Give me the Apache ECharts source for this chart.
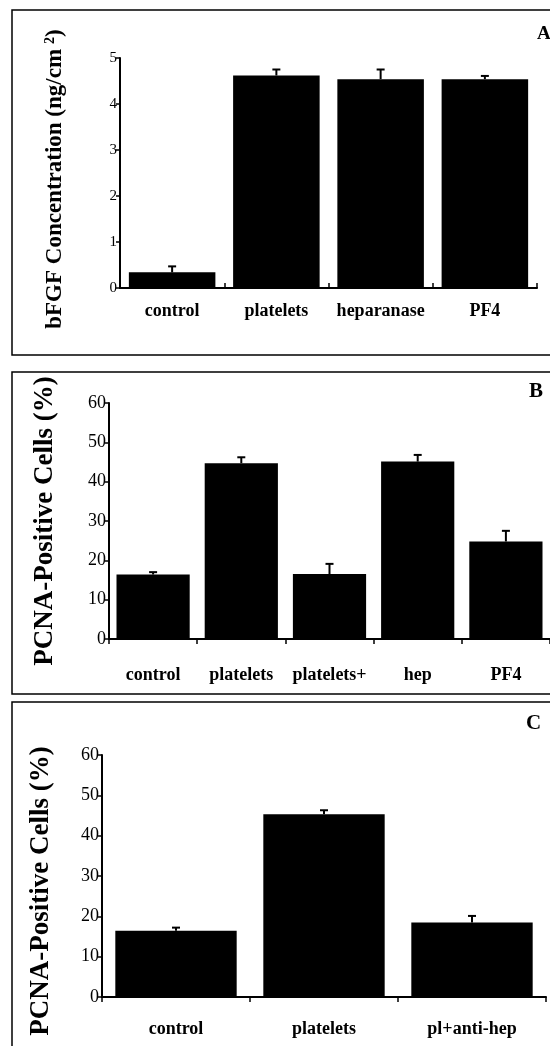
<!DOCTYPE html>
<html>
<head>
<meta charset="utf-8">
<script src="https://cdn.jsdelivr.net/npm/echarts@6/dist/echarts.min.js"></script>
<style>html,body{margin:0;padding:0;background:#fff}#c{width:550px;height:1046px}</style>
</head>
<body>
<div id="c"></div>
<script>
// Panel A
var catsA = ['control', 'platelets', 'heparanase', 'PF4'];
var valsA = [0.34, 4.62, 4.54, 4.54];
var errA = [0.13, 0.13, 0.21, 0.07];
// Panel B
var catsB = ['control', 'platelets', 'platelets+', 'hep', 'PF4'];
var valsB = [16.4, 44.7, 16.5, 45.1, 24.8];
var errB = [0.6, 1.5, 2.6, 1.7, 2.7];
// Panel C
var catsC = ['control', 'platelets', 'pl+anti-hep'];
var valsC = [16.4, 45.3, 18.5];
var errC = [0.8, 1.0, 1.6];
// tick labels
var ticksA = ['0', '1', '2', '3', '4', '5'];
var ticksBC = ['0', '10', '20', '30', '40', '50', '60'];

var SERIF = '"Liberation Serif","Times New Roman",serif';

function errSeries(vals, errs, idx) {
  return {
    type: 'custom', xAxisIndex: idx, yAxisIndex: idx, z: 5,
    data: vals.map(function (v, i) { return [i, v, errs[i]]; }),
    encode: { x: 0, y: 1 },
    renderItem: function (params, api) {
      var i = api.value(0), v = api.value(1), e = api.value(2);
      var p0 = api.coord([i, v]);
      var p1 = api.coord([i, v + e]);
      var hw = 4;
      return {
        type: 'group',
        children: [
          { type: 'line', shape: { x1: p0[0], y1: p0[1], x2: p1[0], y2: p1[1] }, style: { stroke: '#000', lineWidth: 2 } },
          { type: 'line', shape: { x1: p1[0] - hw, y1: p1[1], x2: p1[0] + hw, y2: p1[1] }, style: { stroke: '#000', lineWidth: 2 } }
        ]
      };
    }
  };
}

function xAx(cats, idx, margin, inside) {
  return {
    type: 'category', gridIndex: idx, data: cats,
    axisLine: { lineStyle: { color: '#000', width: 2 } },
    axisTick: { show: true, inside: inside, length: 5, lineStyle: { color: '#000', width: 1.5 } },
    axisLabel: { interval: 0, color: '#000', fontFamily: SERIF, fontWeight: 'bold', fontSize: 18, margin: margin }
  };
}

function yAx(idx, max, interval, ticks, name, nameGap, labelSize, nameSize, shift) {
  return {
    type: 'value', gridIndex: idx, min: 0, max: max, interval: interval,
    splitLine: { show: false },
    axisLine: { show: true, lineStyle: { color: '#000', width: 2 } },
    axisTick: { show: true, length: 4, lineStyle: { color: '#000', width: 1.5 } },
    axisLabel: { color: '#000', fontFamily: SERIF, fontSize: labelSize, margin: 3,
      formatter: function (v) { var k = Math.round(v / interval); return ticks[k]; } },
    name: name, nameLocation: 'middle', nameRotate: 90, nameGap: nameGap,
    nameTextStyle: { color: '#000', fontFamily: SERIF, fontWeight: 'bold', fontSize: nameSize,
      padding: [0, shift, 0, 0],
      rich: {
        a: { fontFamily: SERIF, fontWeight: 'bold', fontSize: nameSize, color: '#000' },
        s: { fontFamily: SERIF, fontWeight: 'bold', fontSize: 14, color: '#000', verticalAlign: 'top', padding: [0, 0, 10, 5] }
      } }
  };
}

function barSeries(vals, idx, gap) {
  return { type: 'bar', xAxisIndex: idx, yAxisIndex: idx, data: vals, barCategoryGap: gap,
    itemStyle: { color: '#000' }, z: 3 };
}

var chart = echarts.init(document.getElementById('c'), null, { renderer: 'canvas' });
chart.setOption({
  backgroundColor: '#fff',
  animation: false,
  grid: [
    { left: 120, top: 58, width: 417, height: 230 },
    { left: 109, top: 403, width: 442, height: 236 },
    { left: 102, top: 755, width: 444, height: 242 }
  ],
  xAxis: [ xAx(catsA, 0, 14, true), xAx(catsB, 1, 27, false), xAx(catsC, 2, 23, false) ],
  yAxis: [
    yAx(0, 5, 1, ticksA, '{a|bFGF Concentration (ng/cm}{s|2}{a|)}', 53, 15, 23, 12),
    yAx(1, 60, 10, ticksBC, 'PCNA-Positive Cells (%)', 50, 18, 27, 0),
    yAx(2, 60, 10, ticksBC, 'PCNA-Positive Cells (%)', 47, 18, 27, 30)
  ],
  series: [
    barSeries(valsA, 0, '17%'), errSeries(valsA, errA, 0),
    barSeries(valsB, 1, '17%'), errSeries(valsB, errB, 1),
    barSeries(valsC, 2, '18%'), errSeries(valsC, errC, 2)
  ],
  graphic: [
    { type: 'rect', shape: { x: 12, y: 10, width: 560, height: 345 }, style: { fill: 'none', stroke: '#000', lineWidth: 1.5 } },
    { type: 'rect', shape: { x: 12, y: 372, width: 560, height: 322 }, style: { fill: 'none', stroke: '#000', lineWidth: 1.5 } },
    { type: 'rect', shape: { x: 12, y: 702, width: 560, height: 360 }, style: { fill: 'none', stroke: '#000', lineWidth: 1.5 } },
    { type: 'text', left: 537, top: 25, style: { text: 'A', font: 'bold 19px ' + SERIF, fill: '#000' } },
    { type: 'text', left: 529, top: 381, style: { text: 'B', font: 'bold 21px ' + SERIF, fill: '#000' } },
    { type: 'text', left: 526, top: 713, style: { text: 'C', font: 'bold 21px ' + SERIF, fill: '#000' } }
  ]
});
</script>
</body>
</html>
